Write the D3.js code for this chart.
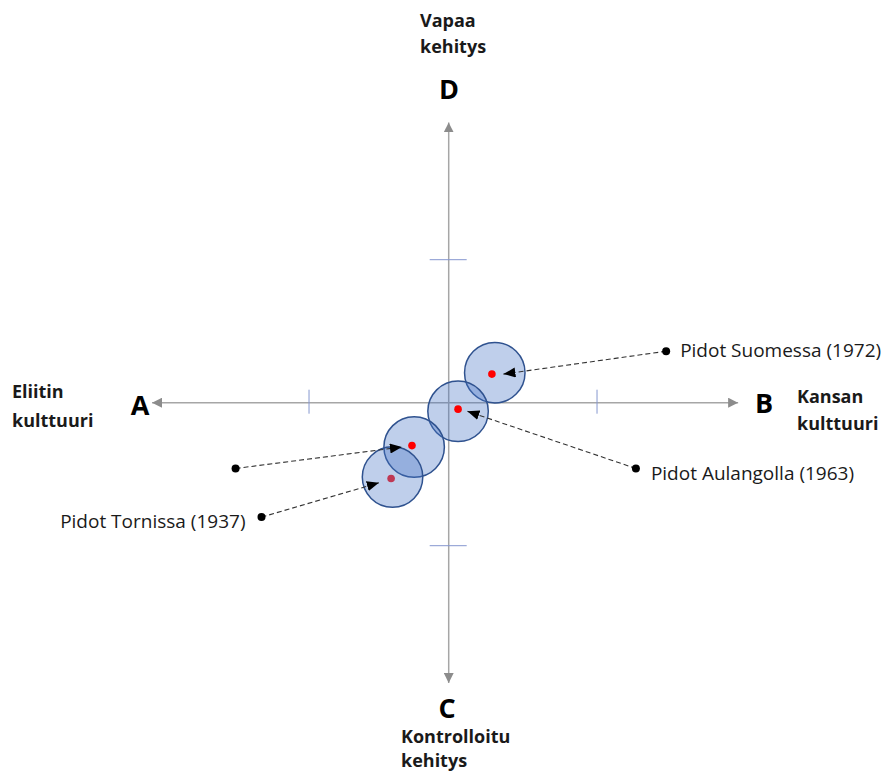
<!DOCTYPE html>
<html>
<head>
<meta charset="utf-8">
<script src="https://cdn.jsdelivr.net/npm/d3@7"></script>
<style>
  html, body { margin: 0; padding: 0; background: #fff; }
  svg { display: block; }
</style>
</head>
<body>
<svg id="chart" width="883" height="773"></svg>
<script>
// ---- data ----
const events = ["Pidot Suomessa (1972)", "Pidot Aulangolla (1963)", "", "Pidot Tornissa (1937)"];
const circleX = [0.32, 0.065, -0.24, -0.39];
const circleY = [0.21, -0.06, -0.31, -0.52];
const pointX  = [0.30, 0.065, -0.255, -0.40];
const pointY  = [0.20, -0.045, -0.30, -0.53];
const tipX    = [0.38, 0.13, -0.325, -0.485];
const tipY    = [0.20, -0.06, -0.31, -0.56];
const labelDotX = [1.51, 1.30, -1.48, -1.30];
const labelDotY = [0.36, -0.46, -0.46, -0.80];
const circleRadius = 0.21;
const xTicks = [-0.97, 1.03];
const yTicks = [1, -1];
const xAxisExtent = [-2.06, 2.01];
const yAxisExtent = [-1.96, 1.96];
const poleLetters = ["A", "B", "C", "D"];
const poleNames = [["Eliitin", "kulttuuri"], ["Kansan", "kulttuuri"], ["Kontrolloitu", "kehitys"], ["Vapaa", "kehitys"]];

// ---- scales ----
const cx0 = 448.7, cy0 = 402.7;
const x = d3.scaleLinear().domain([-2, 2]).range([cx0 - 288, cx0 + 288]);
const y = d3.scaleLinear().domain([-2, 2]).range([cy0 + 286, cy0 - 286]);
const rPx = x(circleRadius) - x(0);

const svg = d3.select("#chart");
const defs = svg.append("defs");
defs.append("marker").attr("id", "axisArrow")
  .attr("viewBox", "0 0 10 10").attr("refX", 10).attr("refY", 5)
  .attr("markerWidth", 10).attr("markerHeight", 10).attr("markerUnits", "userSpaceOnUse")
  .attr("orient", "auto")
  .append("path").attr("d", "M0,0 L10,5 L0,10 Z").attr("fill", "#8c8c8c");
defs.append("marker").attr("id", "blackArrow")
  .attr("viewBox", "0 0 12 10").attr("refX", 12).attr("refY", 5)
  .attr("markerWidth", 12).attr("markerHeight", 10).attr("markerUnits", "userSpaceOnUse")
  .attr("orient", "auto")
  .append("path").attr("d", "M0,0 L12,5 L0,10 Z").attr("fill", "#000");

// ---- axes ----
const axisColor = "#a6a6a6";
[[xAxisExtent[0], 0], [xAxisExtent[1], 0], [0, yAxisExtent[1]], [0, yAxisExtent[0]]].forEach(e => {
  svg.append("line")
    .attr("x1", x(0)).attr("y1", y(0)).attr("x2", x(e[0])).attr("y2", y(e[1]))
    .attr("stroke", axisColor).attr("stroke-width", 1.5).attr("marker-end", "url(#axisArrow)");
});

// ticks
const tickColor = "#8597cf";
svg.selectAll(".xtick").data(xTicks).join("line").attr("class", "xtick")
  .attr("x1", d => x(d)).attr("x2", d => x(d))
  .attr("y1", y(0) - 13).attr("y2", y(0) + 11)
  .attr("stroke", tickColor).attr("stroke-width", 1);
svg.selectAll(".ytick").data(yTicks).join("line").attr("class", "ytick")
  .attr("y1", d => y(d)).attr("y2", d => y(d))
  .attr("x1", x(0) - 19).attr("x2", x(0) + 18)
  .attr("stroke", tickColor).attr("stroke-width", 1);

// ---- pole letters and names ----
const letterPos = [[140, 404], [764, 402], [447, 707], [449, 88]];
const letterFont = "'Open Sans', 'DejaVu Sans', sans-serif";
svg.selectAll(".pole").data(poleLetters).join("text").attr("class", "pole")
  .attr("x", (d, i) => letterPos[i][0]).attr("y", (d, i) => letterPos[i][1])
  .attr("text-anchor", "middle").attr("dominant-baseline", "central")
  .attr("font-family", letterFont).attr("font-weight", "bold").attr("font-size", 27)
  .attr("fill", "#000").text(d => d);

const namePos = [[12, 391], [797, 396], [401, 736], [420, 20]];
const nameGap = [29, 27, 24, 26];
poleNames.forEach((lines, i) => {
  const t = svg.append("text")
    .attr("font-family", letterFont).attr("font-weight", "bold").attr("font-size", 18)
    .attr("fill", "#1a1a1a");
  lines.forEach((ln, j) => {
    t.append("tspan").attr("x", namePos[i][0]).attr("y", namePos[i][1] + j * nameGap[i])
      .attr("dominant-baseline", "central").text(ln);
  });
});

// ---- Tornissa point beneath circles ----
svg.append("circle")
  .attr("cx", x(pointX[3])).attr("cy", y(pointY[3])).attr("r", 3.8)
  .attr("fill", "#ff1a1a");

// ---- circles ----
svg.selectAll(".bubble").data(events).join("circle").attr("class", "bubble")
  .attr("cx", (d, i) => x(circleX[i])).attr("cy", (d, i) => y(circleY[i]))
  .attr("r", rPx)
  .attr("fill", "#4472c4").attr("fill-opacity", 0.34)
  .attr("stroke", "#2f528f").attr("stroke-width", 1.5);

svg.selectAll(".pt").data(events.slice(0, 3)).join("circle").attr("class", "pt")
  .attr("cx", (d, i) => x(pointX[i])).attr("cy", (d, i) => y(pointY[i])).attr("r", 3.8)
  .attr("fill", "#ff0000");

// ---- dashed connector lines with arrows ----
svg.selectAll(".conn").data(events).join("line").attr("class", "conn")
  .attr("x1", (d, i) => x(labelDotX[i])).attr("y1", (d, i) => y(labelDotY[i]))
  .attr("x2", (d, i) => x(tipX[i])).attr("y2", (d, i) => y(tipY[i]))
  .attr("stroke", "#333").attr("stroke-width", 1.1).attr("stroke-dasharray", "5,3")
  .attr("marker-end", "url(#blackArrow)");

// ---- label dots ----
svg.selectAll(".ldot").data(events).join("circle").attr("class", "ldot")
  .attr("cx", (d, i) => x(labelDotX[i])).attr("cy", (d, i) => y(labelDotY[i])).attr("r", 4)
  .attr("fill", "#000");

// ---- event labels ----
const labelFont = "'Open Sans', 'DejaVu Sans', sans-serif";
const labelShift = [[14, 6], [15, 12], [0, 0], [-16, 11]];
svg.selectAll(".elabel").data(events).join("text").attr("class", "elabel")
  .attr("x", (d, i) => x(labelDotX[i]) + labelShift[i][0])
  .attr("y", (d, i) => y(labelDotY[i]) + labelShift[i][1])
  .attr("text-anchor", (d, i) => i === 3 ? "end" : "start")
  .attr("font-family", labelFont).attr("font-size", 19).attr("fill", "#1a1a1a")
  .text(d => d);
</script>
</body>
</html>
